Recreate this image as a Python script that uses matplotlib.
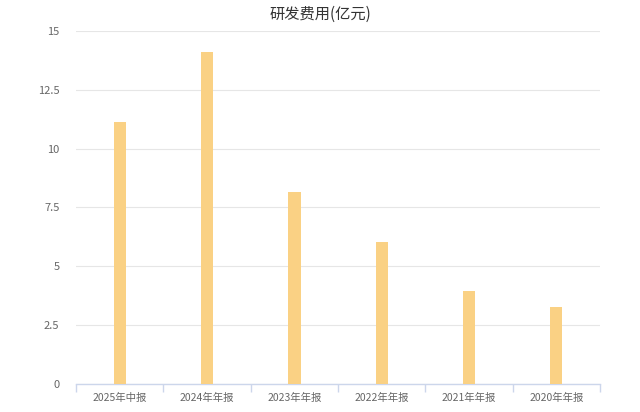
import matplotlib
matplotlib.use("Agg")
import matplotlib.pyplot as plt
import numpy as np

# 研发费用数据（亿元）
categories = ["2025年中报", "2024年年报", "2023年年报", "2022年年报", "2021年年报", "2020年年报"]
values = [11.13, 14.12, 8.16, 6.03, 3.95, 3.28]
yticks = [0, 2.5, 5, 7.5, 10, 12.5, 15]
ytick_labels = ["0", "2.5", "5", "7.5", "10", "12.5", "15"]

plt.rcParams["font.family"] = ["Noto Sans CJK SC", "DejaVu Sans"]

fig = plt.figure(figsize=(6.4, 4.12), dpi=100)
ax = fig.add_axes([0.119, 0.068, 0.8185, 0.857])

x = np.arange(len(categories))
ax.bar(x, values, width=0.14, color="#fad184", zorder=3)

ax.set_xlim(-0.5, len(categories) - 0.5)
ax.set_ylim(0, 15)
ax.set_yticks(yticks)
ax.set_yticklabels(ytick_labels)
ax.set_xticks(x)
ax.set_xticklabels(categories)

# 网格线
ax.grid(axis="y", color="#e6e6e6", linewidth=0.8, zorder=0)
for s in ["top", "right", "left"]:
    ax.spines[s].set_visible(False)
ax.spines["bottom"].set_color("#ccd6eb")
ax.spines["bottom"].set_linewidth(1)

# 类别边界刻度
ax.set_xticks(np.arange(-0.5, len(categories), 1), minor=True)
ax.tick_params(axis="x", which="major", length=0, pad=6, labelsize=7.5, labelcolor="#666666")
ax.tick_params(axis="x", which="minor", length=6, color="#ccd6eb", width=1)
ax.tick_params(axis="y", length=0, pad=12, labelsize=8, labelcolor="#666666")

fig.text(0.5, 0.965, "研发费用(亿元)", ha="center", va="center", fontsize=11, color="#333333")

fig.savefig("out.png", dpi=100, facecolor="white")
